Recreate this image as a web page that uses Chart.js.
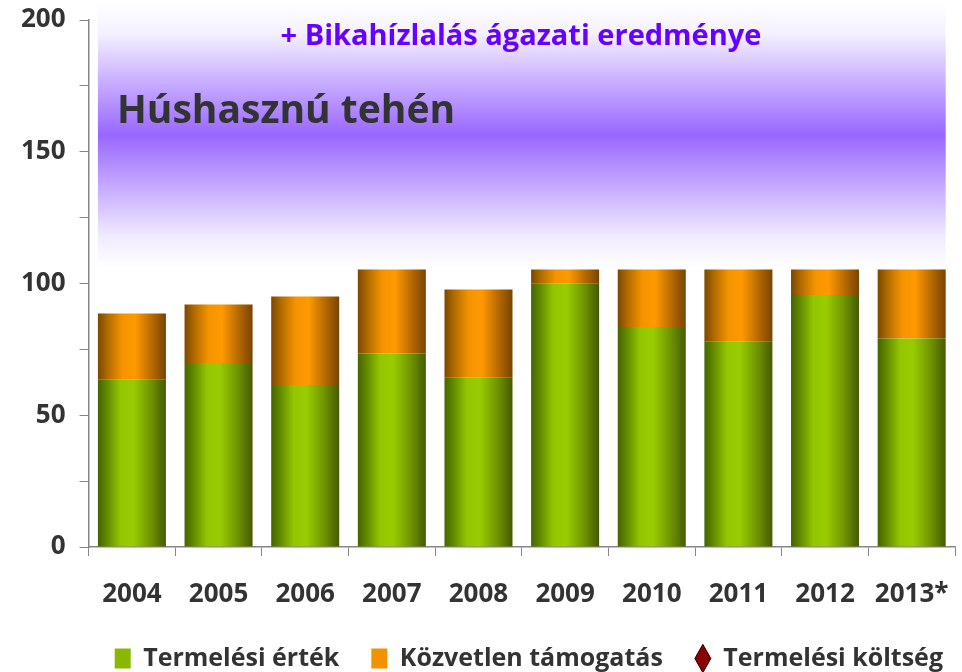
<!DOCTYPE html>
<html>
<head>
<meta charset="utf-8">
<script src="https://cdn.jsdelivr.net/npm/chart.js@4/dist/chart.umd.min.js"></script>
<style>
  html, body { margin: 0; padding: 0; background: #fff; }
</style>
</head>
<body>
<canvas id="chart" width="962" height="672"></canvas>
<script>
const years = ["2004", "2005", "2006", "2007", "2008", "2009", "2010", "2011", "2012", "2013*"];
// Termelési érték (green)
const productionValue = [63.5, 69.8, 61.5, 73.4, 64.4, 100.1, 83.5, 77.9, 95.6, 79.1];
// Közvetlen támogatás (orange), visible part up to the band edge
const directSupport = [25.1, 22.2, 33.6, 31.9, 33.3, 5.2, 21.8, 27.4, 9.7, 26.2];
// Termelési költség - no marker is visible in the picture
const productionCost = [];
const yTicks = [0, 50, 100, 150, 200];

const FONT = "'Open Sans', 'DejaVu Sans', sans-serif";
const TEXT = "#333333";
const AXIS = "#868686";
const BAR_SHARE = 0.785;
const LEGEND_HEIGHT = 58;

function barGradient(ctx, stops, fallback) {
  const chart = ctx.chart;
  const area = chart.chartArea;
  if (!area || ctx.type !== "data") return fallback;
  const cw = (area.right - area.left) / years.length;
  const cx = area.left + cw * (ctx.dataIndex + 0.5);
  const bw = cw * BAR_SHARE;
  const g = chart.ctx.createLinearGradient(cx - bw / 2, 0, cx + bw / 2, 0);
  stops.forEach(s => g.addColorStop(s[0], s[1]));
  return g;
}

const greenStops = [[0, "#466400"], [0.12, "#5e8600"], [0.33, "#94c600"], [0.52, "#99cc00"], [0.78, "#6f9400"], [1, "#455a00"]];
const orangeStops = [[0, "#7a4800"], [0.14, "#b06a00"], [0.36, "#f59400"], [0.55, "#ff9900"], [0.8, "#b46800"], [1, "#784400"]];

// keep the legend low, like the original
const legendFit = {
  id: "legendFit",
  beforeInit(chart) {
    const fit = chart.legend.fit;
    chart.legend.fit = function () {
      fit.call(this);
      this.height = LEGEND_HEIGHT;
    };
  }
};

const bandPlugin = {
  id: "band",
  beforeDatasetsDraw(chart) {
    const c = chart.ctx;
    const meta = chart.getDatasetMeta(0);
    const first = meta.data[0], last = meta.data[meta.data.length - 1];
    const x0 = first.x - first.width / 2;
    const x1 = last.x + last.width / 2;
    const yTop = 2;
    const yBot = chart.scales.y.getPixelForValue(106);
    const g = c.createLinearGradient(0, yTop, 0, yBot);
    g.addColorStop(0, "#ffffff");
    g.addColorStop(0.12, "#f4f0ff");
    g.addColorStop(0.5, "#9966ff");
    g.addColorStop(0.88, "#f0eaff");
    g.addColorStop(1, "#ffffff");
    c.save();
    c.fillStyle = g;
    c.fillRect(x0, yTop, x1 - x0, yBot - yTop);
    c.restore();
  },
  afterDatasetsDraw(chart) {
    const c = chart.ctx;
    c.save();
    c.textBaseline = "alphabetic";
    c.fillStyle = "#6600ff";
    c.font = "bold 29px " + FONT;
    c.textAlign = "center";
    c.fillText("+ Bikahízlalás ágazati eredménye", 521, 45);
    c.fillStyle = "#333333";
    c.font = "bold 39px " + FONT;
    c.textAlign = "left";
    c.fillText("Húshasznú tehén", 117, 123);
    c.restore();
  }
};

new Chart(document.getElementById("chart").getContext("2d"), {
  type: "bar",
  data: {
    labels: years,
    datasets: [
      {
        label: "Termelési érték",
        data: productionValue,
        backgroundColor: ctx => barGradient(ctx, greenStops, "#8ab800"),
        borderWidth: 0,
        stack: "a",
        categoryPercentage: BAR_SHARE,
        barPercentage: 1
      },
      {
        label: "Közvetlen támogatás",
        data: directSupport,
        backgroundColor: ctx => barGradient(ctx, orangeStops, "#f09000"),
        borderWidth: 0,
        stack: "a",
        categoryPercentage: BAR_SHARE,
        barPercentage: 1
      },
      {
        type: "line",
        label: "Termelési költség",
        data: productionCost,
        showLine: false,
        pointStyle: "rectRot",
        pointRadius: 8,
        backgroundColor: "#8b0000",
        borderColor: "#3a0000",
        stack: "cost"
      }
    ]
  },
  options: {
    responsive: false,
    animation: false,
    layout: { padding: { left: 7, right: -13, top: 0, bottom: 0 } },
    plugins: {
      legend: {
        position: "bottom",
        align: "end",
        labels: {
          font: { family: FONT, size: 25, weight: "bold" },
          color: TEXT,
          usePointStyle: true,
          pointStyleWidth: 16,
          boxHeight: 20,
          padding: 32,
          generateLabels: chart => {
            const colors = ["#8ab800", "#f39200", "#8b0000"];
            const styles = ["rect", "rect", "rectRot"];
            return chart.data.datasets.map((ds, i) => ({
              text: ds.label,
              fillStyle: colors[i],
              strokeStyle: i === 2 ? "#2a0000" : colors[i],
              lineWidth: i === 2 ? 1 : 0,
              pointStyle: styles[i],
              fontColor: TEXT,
              datasetIndex: i
            }));
          }
        }
      },
      tooltip: { enabled: false }
    },
    scales: {
      x: {
        stacked: true,
        grid: { drawOnChartArea: false, offset: true, tickLength: 9, color: AXIS },
        border: { color: AXIS, width: 1.5 },
        ticks: {
          font: { family: FONT, size: 26, weight: "bold" },
          color: TEXT,
          padding: 23,
          maxRotation: 0
        },
        afterFit: scale => {
          scale.height = 67;
          scale.paddingLeft = 0;
          scale.paddingRight = 7;
        }
      },
      y: {
        stacked: true,
        min: yTicks[0],
        max: yTicks[yTicks.length - 1],
        grid: { drawOnChartArea: false, tickLength: 9, color: AXIS },
        border: { color: AXIS, width: 1.5 },
        ticks: {
          stepSize: 25,
          autoSkip: false,
          font: { family: FONT, size: 26, weight: "bold" },
          color: TEXT,
          padding: 14,
          callback: v => yTicks.includes(v) ? String(v) : ""
        },
        afterFit: scale => {
          scale.paddingTop = 20;
          scale.paddingBottom = 0;
        }
      }
    }
  },
  plugins: [legendFit, bandPlugin]
});
</script>
</body>
</html>
